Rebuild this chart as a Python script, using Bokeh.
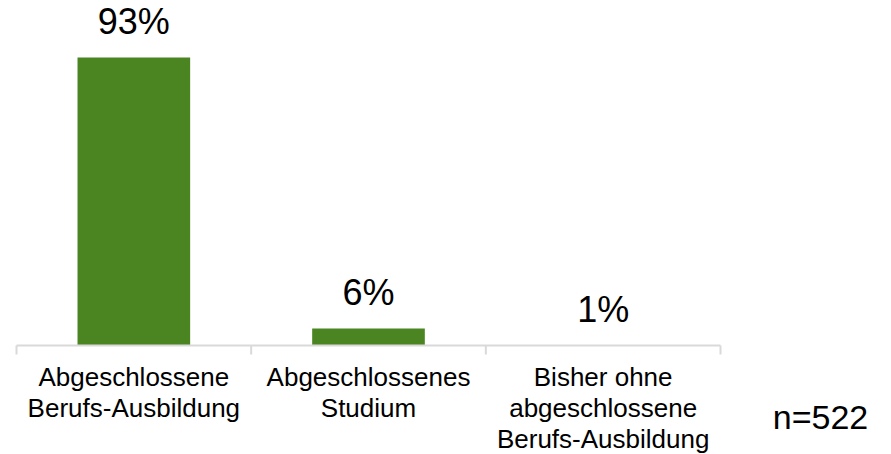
from bokeh.plotting import figure
from bokeh.models import Range1d, Label, ColumnDataSource
from bokeh.core.properties import value
from bokeh.embed import file_html
from bokeh.resources import INLINE

categories = ["Abgeschlossene\nBerufs-Ausbildung",
              "Abgeschlossenes\nStudium",
              "Bisher ohne\nabgeschlossene\nBerufs-Ausbildung"]
shares = [93.0, 5.5, 0.0]
share_labels = ["93%", "6%", "1%"]
sample_note = "n=522"

positions = [i + 0.5 for i in range(len(categories))]
boundaries = list(range(len(categories) + 1))

W, H = 891, 454
y0, y1 = -35.20, 111.41
px_per_unit = H / (y1 - y0)
tick_len = 9 / px_per_unit

p = figure(width=W, height=H, output_backend="svg", toolbar_location=None,
           x_range=Range1d(-0.06818, 3.7287), y_range=Range1d(y0, y1),
           min_border=0, outline_line_color=None, background_fill_color="white",
           border_fill_color="white")
p.xaxis.visible = False
p.yaxis.visible = False
p.xgrid.visible = False
p.ygrid.visible = False

src = ColumnDataSource(dict(x=positions, top=shares, lab=share_labels, cat=categories))
p.vbar(x="x", top="top", bottom=0, width=0.48, source=src,
       fill_color="#4b8521", line_color=None)

# category axis: baseline and boundary ticks
p.segment(x0=[boundaries[0]], x1=[boundaries[-1]], y0=[0], y1=[0],
          line_color="#d9d9d9", line_width=2)
p.segment(x0=boundaries, x1=boundaries, y0=[0] * len(boundaries),
          y1=[-tick_len] * len(boundaries), line_color="#d9d9d9", line_width=2)

p.text(x="x", y="top", text="lab", source=src, text_align="center",
       text_baseline="alphabetic", y_offset=-36, text_font=value("Liberation Sans"),
       text_font_size="36px", text_color="#000000")

p.text(x="x", y=0, text="cat", source=src, text_align="center",
       text_baseline="top", y_offset=17, text_font=value("Liberation Sans"),
       text_font_size="26px", text_color="#000000", text_line_height=1.02)

p.add_layout(Label(x=3.426, y=-22.93, text=sample_note, text_align="center",
                   text_baseline="alphabetic", text_font="Liberation Sans",
                   text_font_size="34px", text_color="#000000"))

open("out.html", "w").write(file_html(p, INLINE))
